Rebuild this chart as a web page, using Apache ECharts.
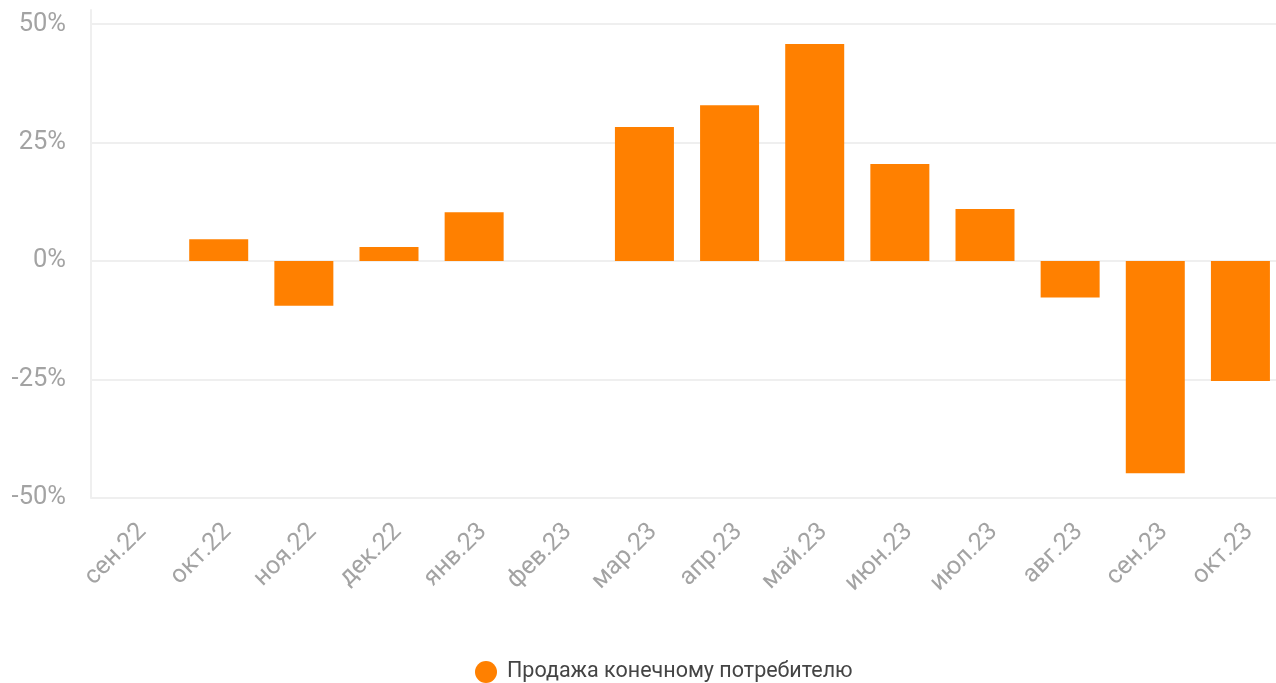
<!DOCTYPE html>
<html>
<head>
<meta charset="utf-8">
<script src="https://cdn.jsdelivr.net/npm/echarts@6/dist/echarts.min.js"></script>
<style>
  html, body { margin: 0; padding: 0; background: #fff; overflow: hidden; }
  /* холст чуть шире окна: правый край сетки уходит за край, как на оригинале */
  #chart { width: 1290px; height: 683px; }
</style>
</head>
<body>
<div id="chart"></div>
<script>
// месяцы и изменения продаж, %
const months = ['сен.22', 'окт.22', 'ноя.22', 'дек.22', 'янв.23', 'фев.23', 'мар.23',
  'апр.23', 'май.23', 'июн.23', 'июл.23', 'авг.23', 'сен.23', 'окт.23'];
const salesChange = [0, 4.6, -9.4, 3.0, 10.3, 0, 28.3, 32.9, 45.8, 20.5, 11.0, -7.7, -44.8, -25.3];
const seriesName = 'Продажа конечному потребителю';

const chart = echarts.init(document.getElementById('chart'));
chart.setOption({
  backgroundColor: '#fff',
  animation: false,
  textStyle: { fontFamily: 'Roboto' },
  grid: { left: 91, right: 7, top: 10, bottom: 185, containLabel: false },
  legend: {
    top: 656,
    left: 470,
    icon: 'circle',
    itemWidth: 22,
    itemHeight: 22,
    itemGap: 10,
    textStyle: { fontSize: 21.5, color: '#444', fontFamily: 'Roboto', padding: [0, 0, 0, 5] },
    data: [seriesName]
  },
  xAxis: {
    type: 'category',
    data: months,
    axisLine: { lineStyle: { color: '#efefef', width: 2 } },
    axisTick: { show: false },
    axisLabel: {
      rotate: 45,
      fontSize: 25,
      color: '#a3a3a3',
      margin: 21,
      verticalAlign: 'top',
      interval: 0
    }
  },
  yAxis: {
    type: 'value',
    min: -50,
    max: 53,
    interval: 25,
    axisLine: { show: true, lineStyle: { color: '#efefef', width: 2 } },
    axisTick: { show: false },
    axisLabel: {
      fontSize: 25.5,
      color: '#a3a3a3',
      margin: 25,
      showMaxLabel: false,
      formatter: function (v) { return v + '%'; }
    },
    splitLine: { show: true, showMaxLine: false, lineStyle: { color: '#efefef', width: 2 } }
  },
  series: [{
    name: seriesName,
    type: 'bar',
    data: salesChange,
    barWidth: 59,
    itemStyle: { color: '#ff8000' }
  }]
});
</script>
</body>
</html>
